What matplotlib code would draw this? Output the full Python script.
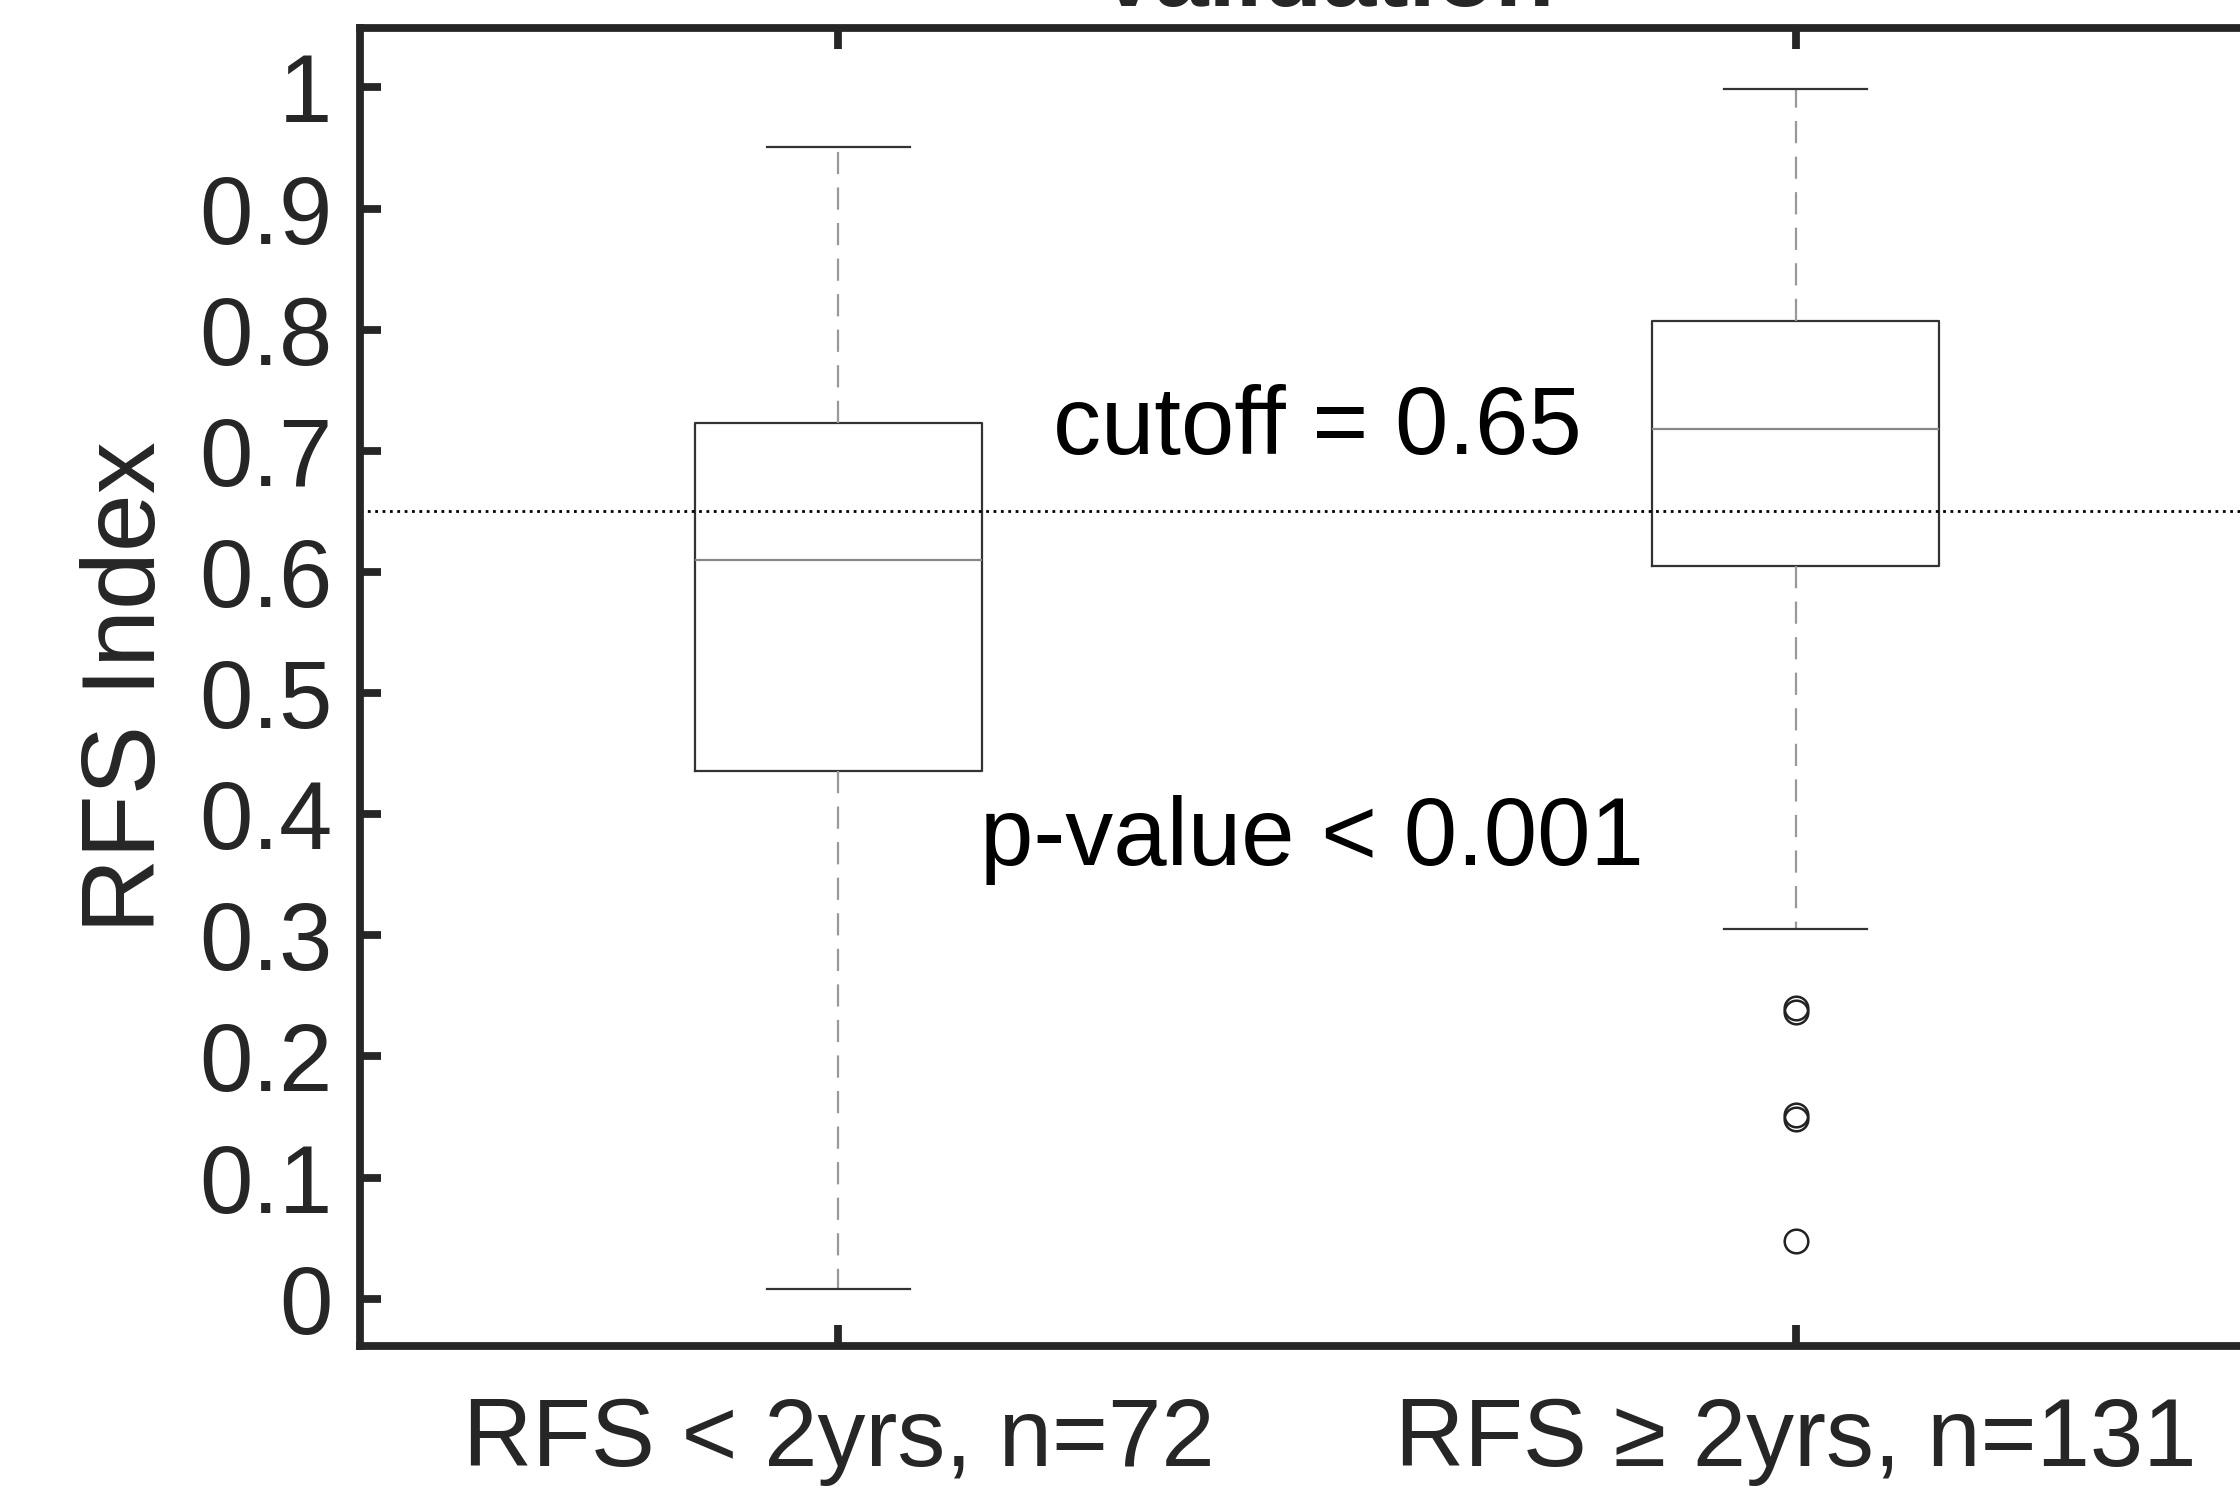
import matplotlib.pyplot as plt
import numpy as np

plt.rcParams['font.family'] = ['Liberation Sans', 'DejaVu Sans']

# box statistics
groups = ['RFS < 2yrs, n=72', 'RFS \u2265 2yrs, n=131']
whisker_low = [0.008, 0.305]
q1 = [0.436, 0.605]
median = [0.610, 0.718]
q3 = [0.723, 0.807]
whisker_high = [0.951, 0.999]
outliers = [[], [0.240, 0.237, 0.152, 0.148, 0.048]]
cutoff = 0.65
yticks = [0, 0.1, 0.2, 0.3, 0.4, 0.5, 0.6, 0.7, 0.8, 0.9, 1]
ytick_labels = ['0', '0.1', '0.2', '0.3', '0.4', '0.5', '0.6', '0.7', '0.8', '0.9', '1']

axis_col = '#262626'

fig = plt.figure(figsize=(11.2, 7.46), dpi=200)
# axes runs just past the right edge, like the cropped original
ax = fig.add_axes([0.1607, 0.0979, 0.8545, 0.8833])

stats = []
for i in range(len(groups)):
    stats.append({'whislo': whisker_low[i], 'q1': q1[i], 'med': median[i],
                  'q3': q3[i], 'whishi': whisker_high[i], 'fliers': outliers[i]})

ax.bxp(stats, positions=[1, 2], widths=0.3, showfliers=True,
       boxprops=dict(color='#333333', linewidth=0.8),
       medianprops=dict(color='#888888', linewidth=0.8),
       whiskerprops=dict(color='#999999', linewidth=0.8, linestyle=(0, (10, 6))),
       capprops=dict(color='#333333', linewidth=0.8),
       flierprops=dict(marker='o', markerfacecolor='none', markeredgecolor='#222222',
                       markersize=8.5, markeredgewidth=0.9))

ax.axhline(cutoff, color='black', linestyle=':', linewidth=1.0)

ax.text(1.224, 0.718, 'cutoff = 0.65', fontsize=34.5, va='center', ha='left', color='black')
ax.text(1.148, 0.379, 'p-value < 0.001', fontsize=34.5, va='center', ha='left', color='black')

ax.set_xlim(0.5, 2.5)
ax.set_ylim(-0.039, 1.049)
ax.set_yticks(yticks)
ax.set_yticklabels(ytick_labels)
ax.set_xticks([1, 2])
ax.set_xticklabels(groups)
ax.set_ylabel('RFS Index', fontsize=37.5, color=axis_col, labelpad=8)

for s in ax.spines.values():
    s.set_linewidth(2.8)
    s.set_color(axis_col)
ax.tick_params(direction='in', length=7.5, width=2.8, color=axis_col,
               labelcolor=axis_col, labelsize=34.5, top=True, right=True)
ax.tick_params(axis='y', pad=10)
ax.tick_params(axis='x', pad=18)

fig.text(0.5915, 0.9960, 'Validation', fontsize=35, fontweight='bold',
         ha='center', va='baseline', color=axis_col)

plt.savefig('out.png', dpi=200)
